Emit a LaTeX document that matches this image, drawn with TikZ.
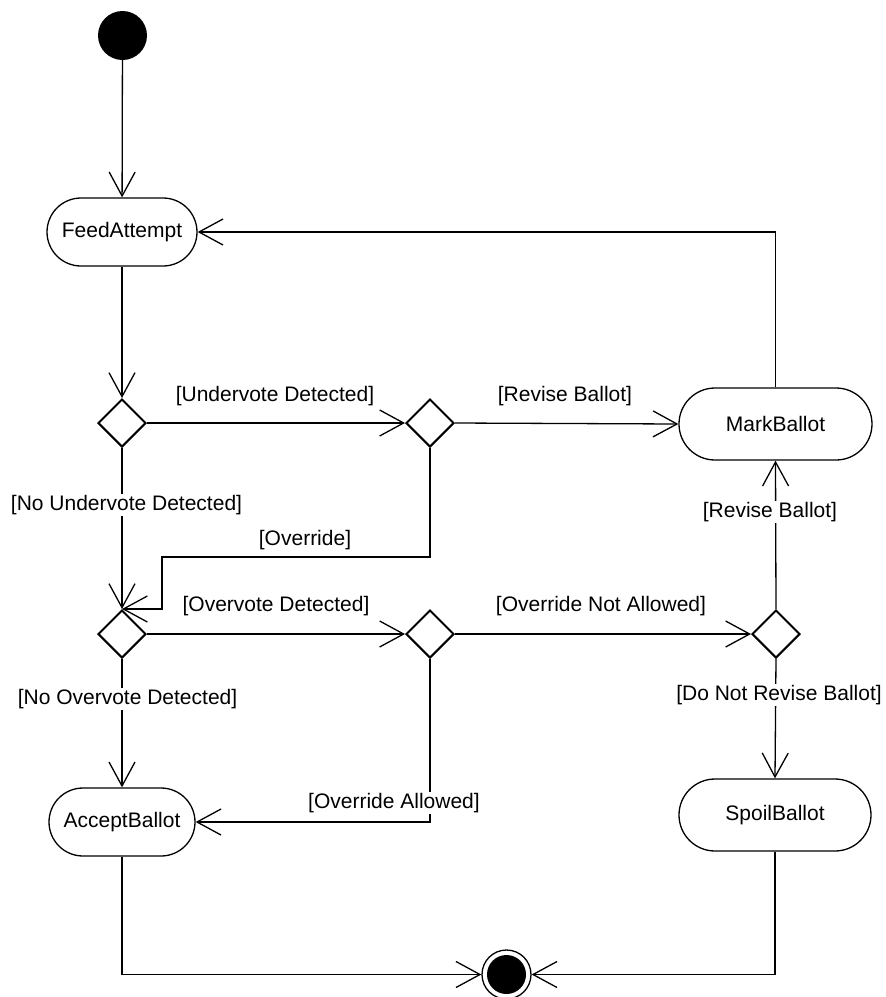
\documentclass[tikz,border=0pt]{standalone}
\usepackage{fontspec}
\setmainfont{Liberation Sans}
\usetikzlibrary{shapes.geometric,shapes.misc,arrows.meta}
\begin{document}
\begin{tikzpicture}[x=1pt,y=-1pt,
  font=\fontsize{21}{25}\selectfont,
  flow/.style={draw=black,line width=1.3pt,-{Straight Barb[length=24pt,width=26pt,line width=1.3pt]}},
  act/.style={rounded rectangle,draw=black,line width=1.3pt,minimum height=68pt,inner sep=0pt},
  dec/.style={diamond,draw=black,line width=2pt,minimum width=48pt,minimum height=48pt,inner sep=0pt},
  lbl/.style={inner sep=1.5pt},
  lblw/.style={inner sep=1.5pt,fill=white}]
\useasboundingbox (0,0) rectangle (886,997);
% nodes
\node[circle,fill=black,minimum size=49pt,inner sep=0pt] (start) at (122.5,35.5) {};
\node[act,minimum width=150pt] (feed) at (122,232) {FeedAttempt};
\node[dec] (d1) at (122,423) {};
\node[dec] (d2) at (430,423) {};
\node[act,minimum width=193pt,minimum height=72pt] (mark) at (775.5,424) {MarkBallot};
\node[dec] (d3) at (122,634) {};
\node[dec] (d4) at (430,634) {};
\node[dec] (d5) at (776,634) {};
\node[act,minimum width=146pt] (accept) at (122,822) {AcceptBallot};
\node[act,minimum width=192pt,minimum height=72pt] (spoil) at (775,815) {SpoilBallot};
\node[circle,draw=black,line width=1.3pt,minimum size=49pt,inner sep=0pt] (final) at (506.5,974.5) {};
\fill[black] (final.center) circle (19.5pt);
\coordinate (ov) at (162,557);
% connectors
\draw[flow] (start) -- (feed);
\draw[flow] (feed.south) -- (d1.north);
\draw[flow] (d1.east) -- (d2.west);
\draw[flow] (d2.east) -- (mark.west);
\draw[flow] (d1.south) -- (d3.north);
\draw[flow] (d2.south) |- (ov) |- (d3.north);
\draw[flow] (d3.east) -- (d4.west);
\draw[flow] (d4.east) -- (d5.west);
\draw[flow] (d5.north) -- (mark.south);
\draw[flow] (d5.south) -- (spoil.north);
\draw[flow] (d3.south) -- (accept.north);
\draw[flow] (d4.south) |- (accept.east);
\draw[flow] (mark.north) |- (feed.east);
\draw[flow] (accept.south) |- (final.west);
\draw[flow] (spoil.south) |- (final.east);
% labels
\node[lbl] (l1) at (275,396) {[Undervote Detected]};
\node[lblw] (l2) at (126.5,505) {[No Undervote Detected]};
\node[lbl] (l3) at (305,540) {[Override]};
\node[lbl] (l4) at (565,396) {[Revise Ballot]};
\node[lblw] (l5) at (770,512) {[Revise Ballot]};
\node[lbl] (l6) at (276,606) {[Overvote Detected]};
\node[lbl] (l7) at (601,606) {[Override Not Allowed]};
\node[lblw] (l8) at (127.5,699) {[No Overvote Detected]};
\node[lblw] (l9) at (779,695) {[Do Not Revise Ballot]};
\node[lblw] (l10) at (394,803) {[Override Allowed]};
\end{tikzpicture}
\end{document}
